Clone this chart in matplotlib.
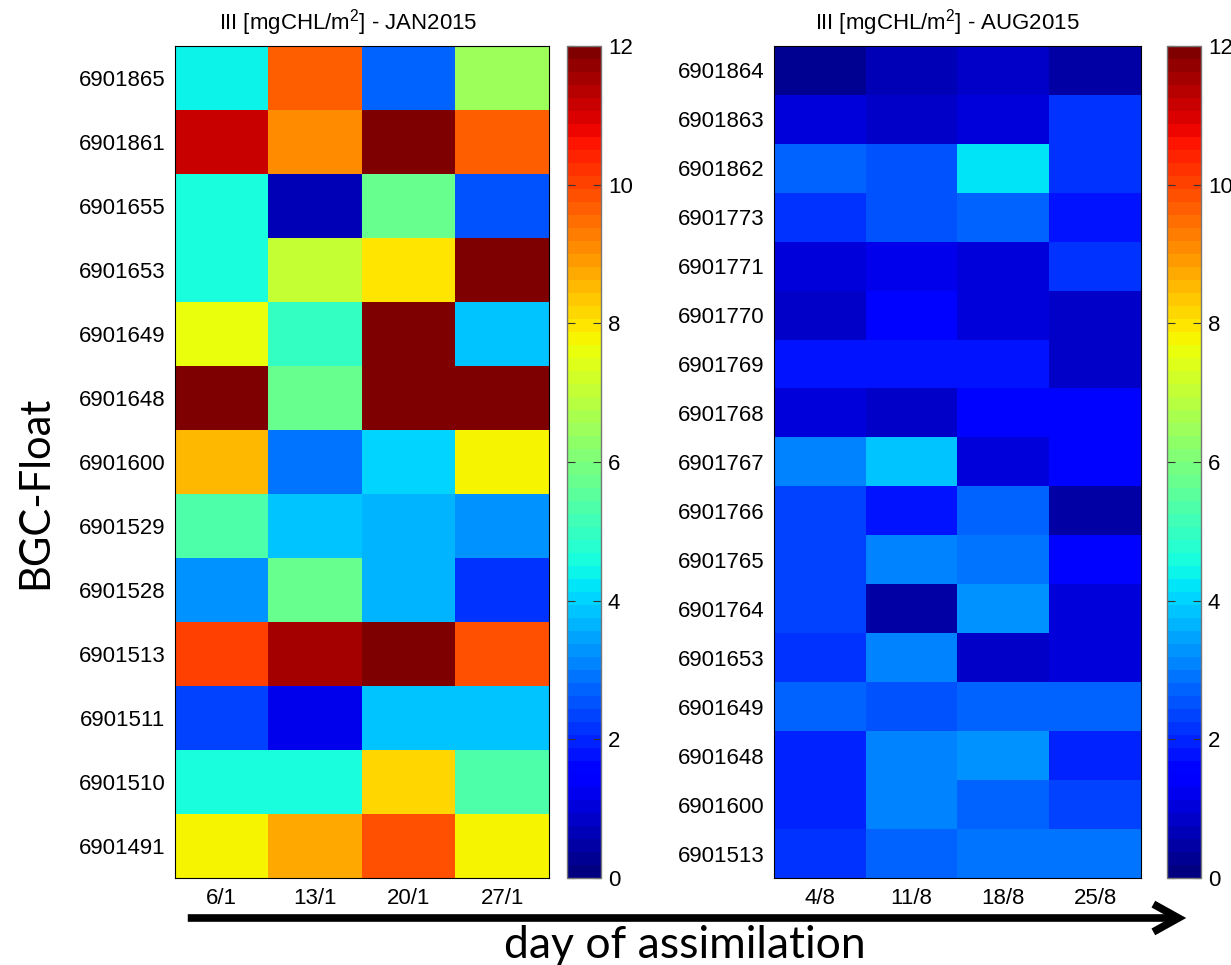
import numpy as np
import matplotlib
matplotlib.use("Agg")
import matplotlib.pyplot as plt
from matplotlib.patches import FancyArrowPatch

# ======================
# DATA
# ======================
jan_floats = ["6901865", "6901861", "6901655", "6901653", "6901649", "6901648",
              "6901600", "6901529", "6901528", "6901513", "6901511", "6901510",
              "6901491"]
jan_days = ["6/1", "13/1", "20/1", "27/1"]
jan_values = [
    [4.4, 9.7, 2.7, 6.4],
    [11.1, 9.0, 12.0, 9.7],
    [4.6, 0.6, 5.8, 2.5],
    [4.5, 7.0, 8.0, 12.0],
    [7.6, 4.9, 12.0, 3.9],
    [12.0, 5.8, 12.0, 12.0],
    [8.5, 2.9, 4.0, 7.8],
    [5.4, 3.9, 3.6, 3.3],
    [3.3, 5.8, 3.6, 2.1],
    [10.1, 11.5, 12.0, 9.8],
    [2.4, 1.2, 3.9, 3.9],
    [4.5, 4.5, 8.1, 5.4],
    [7.7, 8.7, 9.8, 7.7],
]

aug_floats = ["6901864", "6901863", "6901862", "6901773", "6901771", "6901770",
              "6901769", "6901768", "6901767", "6901766", "6901765", "6901764",
              "6901653", "6901649", "6901648", "6901600", "6901513"]
aug_days = ["4/8", "11/8", "18/8", "25/8"]
aug_values = [
    [0.35, 0.6, 0.85, 0.45],
    [1.05, 0.85, 0.95, 2.1],
    [2.7, 2.5, 4.15, 2.15],
    [2.15, 2.55, 2.7, 1.85],
    [0.95, 1.2, 0.95, 2.15],
    [0.75, 1.65, 0.95, 0.9],
    [1.85, 1.85, 1.75, 0.9],
    [1.05, 0.9, 1.5, 1.65],
    [3.0, 3.75, 1.05, 1.65],
    [2.4, 1.8, 2.65, 0.45],
    [2.4, 3.0, 2.85, 1.5],
    [2.4, 0.55, 3.35, 1.05],
    [2.15, 3.15, 0.75, 1.05],
    [2.75, 2.55, 2.7, 2.7],
    [1.95, 3.15, 3.3, 1.95],
    [1.95, 3.15, 2.75, 2.4],
    [2.15, 2.75, 2.95, 2.85],
]

cbar_ticks = [0, 2, 4, 6, 8, 10, 12]

# ======================
# STYLE
# ======================
plt.rcParams["font.family"] = ["Liberation Sans", "DejaVu Sans"]
plt.rcParams["mathtext.fontset"] = "custom"
plt.rcParams["mathtext.rm"] = "Liberation Sans"
plt.rcParams["mathtext.it"] = "Liberation Sans"

W, H = 1231, 965
cmap = matplotlib.colormaps["jet"].resampled(64)

fig = plt.figure(figsize=(W / 100, H / 100), dpi=100)


def px_axes(x0, x1, y0, y1):
    # pixel box (top-left origin) -> figure fraction axes
    return fig.add_axes([x0 / W, 1 - y1 / H, (x1 - x0) / W, (y1 - y0) / H])


def heat(ax, cax, values, floats, days):
    im = ax.imshow(np.array(values), cmap=cmap, vmin=0, vmax=12,
                   aspect="auto", interpolation="nearest")
    ax.set_yticks(range(len(floats)))
    ax.set_yticklabels(floats, fontsize=16)
    ax.set_xticks(range(len(days)))
    ax.set_xticklabels(days, fontsize=16)
    ax.tick_params(length=0, pad=7)
    for s in ax.spines.values():
        s.set_linewidth(0.8)

    cb = fig.colorbar(im, cax=cax, ticks=cbar_ticks)
    cb.outline.set_edgecolor("#777777")
    cb.outline.set_linewidth(1.0)
    cax.tick_params(direction="in", left=True, right=True, length=6,
                    width=0.8, labelsize=16, pad=5, colors="#333333",
                    labelcolor="black")
    return im


ax1 = px_axes(175, 549, 46, 878)
cax1 = px_axes(567, 601, 46, 878)
heat(ax1, cax1, jan_values, jan_floats, jan_days)

ax2 = px_axes(774, 1141, 46, 878)
cax2 = px_axes(1167, 1201, 46, 878)
heat(ax2, cax2, aug_values, aug_floats, aug_days)

fig.text(348 / W, 1 - 29 / H, r"III [mgCHL/m$^2$] - JAN2015",
         fontsize=16, ha="center", va="baseline")
fig.text(947 / W, 1 - 29 / H, r"III [mgCHL/m$^2$] - AUG2015",
         fontsize=16, ha="center", va="baseline")

fig.text(35 / W, 1 - 492 / H, "BGC-Float", rotation=90, fontsize=30,
         family=["Lato", "DejaVu Sans"], ha="center", va="center")

arrow = FancyArrowPatch((185 / W, 1 - 918 / H), (1189 / W, 1 - 918 / H),
                        transform=fig.transFigure,
                        arrowstyle="->,head_length=0.9,head_width=0.5",
                        mutation_scale=20, lw=5.5, color="black",
                        capstyle="butt", joinstyle="miter")
fig.add_artist(arrow)

fig.text(685 / W, 1 - 958 / H, "day of assimilation", fontsize=32,
         family=["Lato", "DejaVu Sans"], ha="center", va="baseline")

plt.savefig("out.png", dpi=100)
